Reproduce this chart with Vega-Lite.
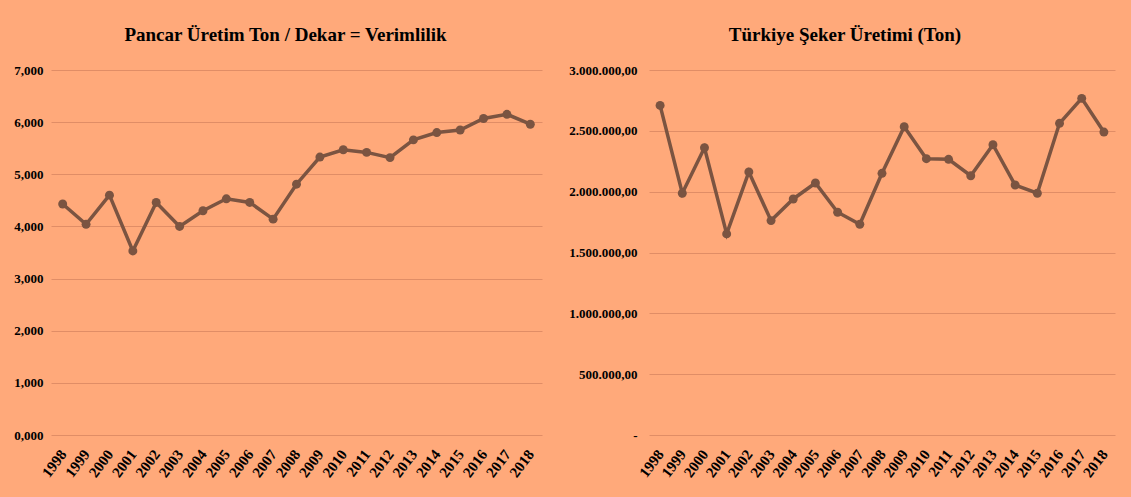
{
  "$schema": "https://vega.github.io/schema/vega-lite/v6.json",
  "background": "#FFA97A",
  "padding": {"left": 13, "top": 26, "right": 17, "bottom": 18},
  "data": {"values": [
    {"year": "1998", "verim": 4.43, "seker": 2709000},
    {"year": "1999", "verim": 4.04, "seker": 1987000},
    {"year": "2000", "verim": 4.60, "seker": 2361000},
    {"year": "2001", "verim": 3.53, "seker": 1653000},
    {"year": "2002", "verim": 4.46, "seker": 2162000},
    {"year": "2003", "verim": 4.00, "seker": 1762000},
    {"year": "2004", "verim": 4.30, "seker": 1940000},
    {"year": "2005", "verim": 4.53, "seker": 2071000},
    {"year": "2006", "verim": 4.46, "seker": 1831000},
    {"year": "2007", "verim": 4.14, "seker": 1732000},
    {"year": "2008", "verim": 4.81, "seker": 2151000},
    {"year": "2009", "verim": 5.33, "seker": 2534000},
    {"year": "2010", "verim": 5.47, "seker": 2271000},
    {"year": "2011", "verim": 5.42, "seker": 2266000},
    {"year": "2012", "verim": 5.32, "seker": 2131000},
    {"year": "2013", "verim": 5.66, "seker": 2386000},
    {"year": "2014", "verim": 5.80, "seker": 2055000},
    {"year": "2015", "verim": 5.85, "seker": 1987000},
    {"year": "2016", "verim": 6.07, "seker": 2562000},
    {"year": "2017", "verim": 6.15, "seker": 2767000},
    {"year": "2018", "verim": 5.96, "seker": 2490000}
  ]},
  "spacing": 26,
  "hconcat": [
    {
      "width": 491,
      "height": 365,
      "title": {"text": "Pancar Üretim Ton / Dekar = Verimlilik", "dx": -11},
      "mark": {"type": "line", "color": "#7B5441", "strokeWidth": 3.5,
               "point": {"filled": true, "size": 80, "color": "#7B5441", "opacity": 1}},
      "encoding": {
        "x": {"field": "year", "type": "ordinal", "axis": {"labelAngle": -53, "grid": false, "labelPadding": 16, "labelFontSize": 15}},
        "y": {"field": "verim", "type": "quantitative",
              "scale": {"domain": [0, 7], "nice": false},
              "axis": {"values": [0, 1, 2, 3, 4, 5, 6, 7], "labelPadding": 8,
                       "labelExpr": "replace(format(datum.value, '.3f'), '.', ',')"}}
      }
    },
    {
      "width": 466,
      "height": 365,
      "title": {"text": "Türkiye  Şeker Üretimi (Ton)", "dx": -37},
      "mark": {"type": "line", "color": "#7B5441", "strokeWidth": 3.5,
               "point": {"filled": true, "size": 80, "color": "#7B5441", "opacity": 1}},
      "encoding": {
        "x": {"field": "year", "type": "ordinal", "axis": {"labelAngle": -53, "grid": false, "labelPadding": 16, "labelFontSize": 15}},
        "y": {"field": "seker", "type": "quantitative",
              "scale": {"domain": [0, 3000000], "nice": false},
              "axis": {"values": [0, 500000, 1000000, 1500000, 2000000, 2500000, 3000000], "labelPadding": 12,
                       "labelExpr": "datum.value == 0 ? '-' : replace(replace(replace(format(datum.value, ',.2f'), regexp(',', 'g'), '#'), '.', ','), regexp('#', 'g'), '.')"}}
      }
    }
  ],
  "config": {
    "view": {"stroke": null},
    "axis": {
      "title": null,
      "domain": false,
      "ticks": false,
      "labelFont": "Liberation Serif",
      "labelFontWeight": "bold",
      "labelFontSize": 13,
      "labelColor": "#000000",
      "gridColor": "#E08D66",
      "gridWidth": 1,
      "gridOpacity": 1
    },
    "title": {
      "font": "Liberation Serif",
      "fontWeight": "bold",
      "fontSize": 19,
      "color": "#000000",
      "anchor": "middle",
      "offset": 19
    }
  }
}
